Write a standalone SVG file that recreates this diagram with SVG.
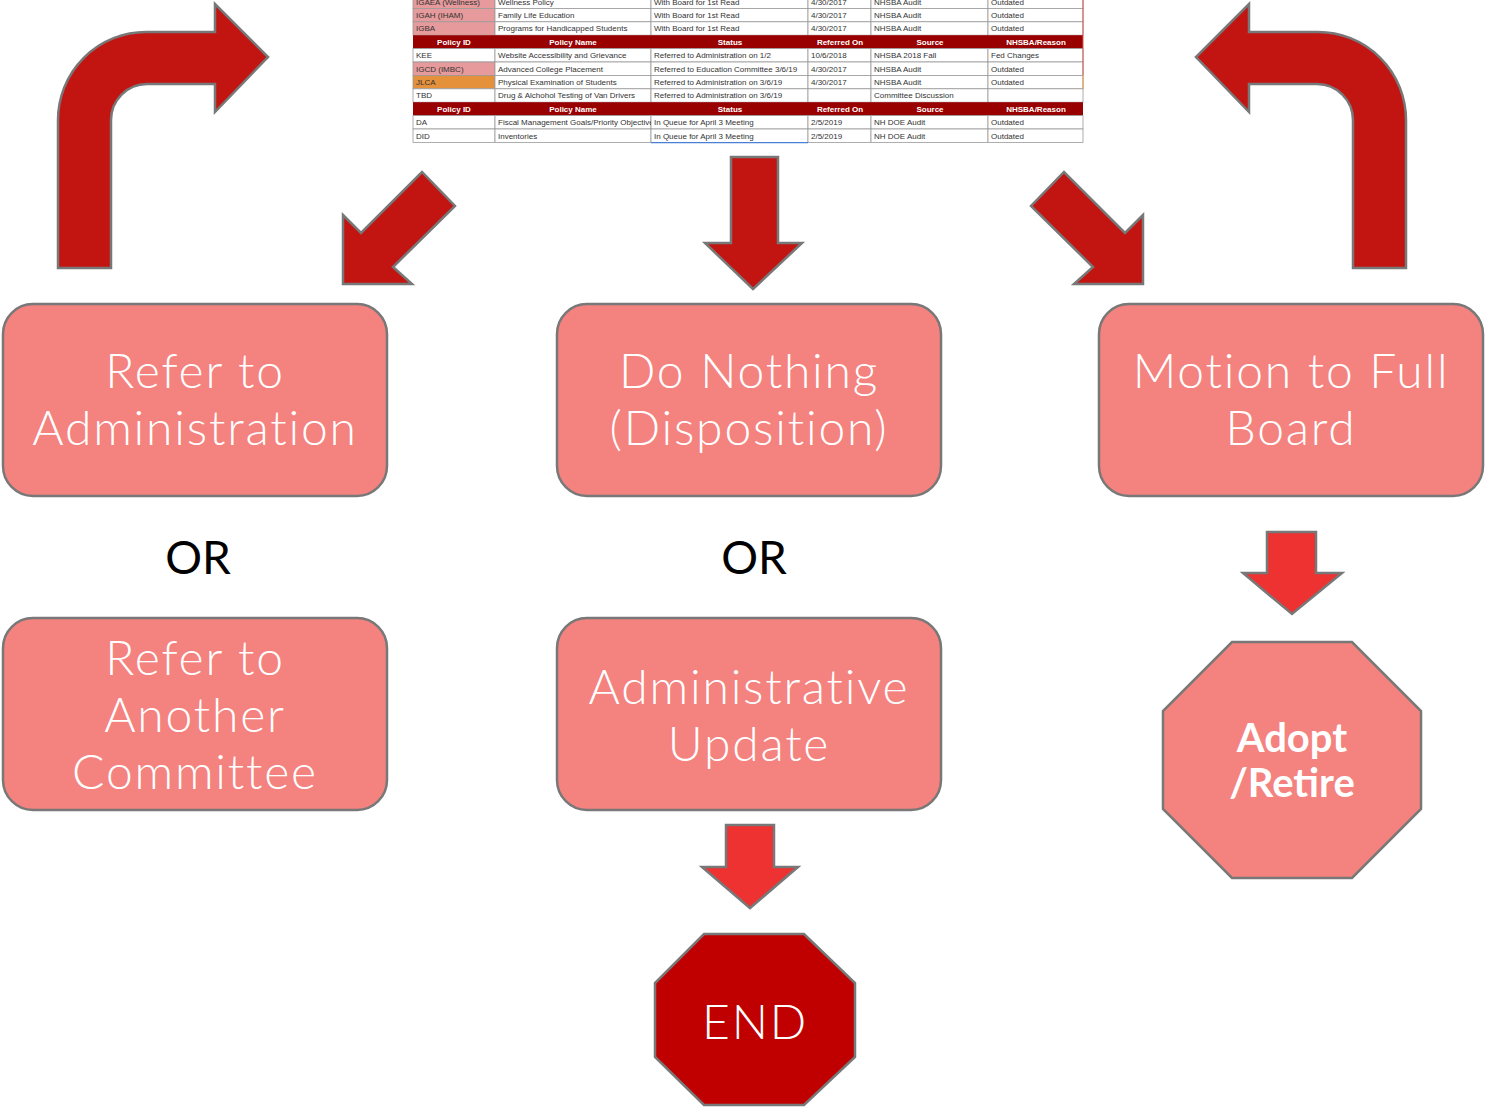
<svg xmlns="http://www.w3.org/2000/svg" width="1486" height="1109" viewBox="0 0 1486 1109">
<style>
.bg{fill:#ffffff}
.big{fill:#c21512;stroke:#787878;stroke-width:2.5;stroke-linejoin:miter}
.small{fill:#ee3131;stroke:#787878;stroke-width:2.5}
.box{fill:#f4827f;stroke:#787878;stroke-width:2.5}
.lbl{font-family:Lato,"Open Sans","Liberation Sans",sans-serif;font-weight:300;font-size:48px;letter-spacing:1.8px;fill:#ffffff;text-anchor:middle}
.or{font-family:Lato,"Open Sans","Liberation Sans",sans-serif;font-weight:400;font-size:46px;fill:#000000;text-anchor:middle}
.td{font-family:"Liberation Sans",Arial,sans-serif;font-size:8px;fill:#333333}
.th{font-family:"Liberation Sans",Arial,sans-serif;font-size:8px;font-weight:bold;fill:#ffffff;text-anchor:middle}
.cell{fill:#ffffff;stroke:#9a9a9a;stroke-width:0.8}
.pink{fill:#e69a9b;stroke:#9a9a9a;stroke-width:0.8}
.orange{fill:#e5913c;stroke:#9a9a9a;stroke-width:0.8}
.hdr{fill:#990000}
</style>
<rect class="bg" x="0" y="0" width="1486" height="1109"/>

<g id="table">
  <rect class="pink" x="413" y="-5" width="82" height="13.4"/>
  <rect class="cell" x="495" y="-5" width="156" height="13.4"/>
  <rect class="cell" x="651" y="-5" width="157" height="13.4"/>
  <rect class="cell" x="808" y="-5" width="63" height="13.4"/>
  <rect class="cell" x="871" y="-5" width="117" height="13.4"/>
  <rect class="cell" x="988" y="-5" width="95" height="13.4"/>
  <text class="td" x="416" y="5">IGAEA (Wellness)</text>
  <text class="td" x="498" y="5">Wellness Policy</text>
  <text class="td" x="654" y="5">With Board for 1st Read</text>
  <text class="td" x="811" y="5">4/30/2017</text>
  <text class="td" x="874" y="5">NHSBA Audit</text>
  <text class="td" x="991" y="5">Outdated</text>
  <rect class="pink" x="413" y="8.4" width="82" height="13.4"/>
  <rect class="cell" x="495" y="8.4" width="156" height="13.4"/>
  <rect class="cell" x="651" y="8.4" width="157" height="13.4"/>
  <rect class="cell" x="808" y="8.4" width="63" height="13.4"/>
  <rect class="cell" x="871" y="8.4" width="117" height="13.4"/>
  <rect class="cell" x="988" y="8.4" width="95" height="13.4"/>
  <text class="td" x="416" y="18">IGAH (IHAM)</text>
  <text class="td" x="498" y="18">Family Life Education</text>
  <text class="td" x="654" y="18">With Board for 1st Read</text>
  <text class="td" x="811" y="18">4/30/2017</text>
  <text class="td" x="874" y="18">NHSBA Audit</text>
  <text class="td" x="991" y="18">Outdated</text>
  <rect class="pink" x="413" y="21.8" width="82" height="13.4"/>
  <rect class="cell" x="495" y="21.8" width="156" height="13.4"/>
  <rect class="cell" x="651" y="21.8" width="157" height="13.4"/>
  <rect class="cell" x="808" y="21.8" width="63" height="13.4"/>
  <rect class="cell" x="871" y="21.8" width="117" height="13.4"/>
  <rect class="cell" x="988" y="21.8" width="95" height="13.4"/>
  <text class="td" x="416" y="31.4">IGBA</text>
  <text class="td" x="498" y="31.4">Programs for Handicapped Students</text>
  <text class="td" x="654" y="31.4">With Board for 1st Read</text>
  <text class="td" x="811" y="31.4">4/30/2017</text>
  <text class="td" x="874" y="31.4">NHSBA Audit</text>
  <text class="td" x="991" y="31.4">Outdated</text>
  <rect class="hdr" x="413" y="35.2" width="670" height="13.4"/>
  <text class="th" x="454" y="45">Policy ID</text>
  <text class="th" x="573" y="45">Policy Name</text>
  <text class="th" x="730" y="45">Status</text>
  <text class="th" x="840" y="45">Referred On</text>
  <text class="th" x="930" y="45">Source</text>
  <text class="th" x="1036" y="45">NHSBA/Reason</text>
  <rect class="cell" x="413" y="48.6" width="82" height="13.4"/>
  <rect class="cell" x="495" y="48.6" width="156" height="13.4"/>
  <rect class="cell" x="651" y="48.6" width="157" height="13.4"/>
  <rect class="cell" x="808" y="48.6" width="63" height="13.4"/>
  <rect class="cell" x="871" y="48.6" width="117" height="13.4"/>
  <rect class="cell" x="988" y="48.6" width="95" height="13.4"/>
  <text class="td" x="416" y="58.2">KEE</text>
  <text class="td" x="498" y="58.2">Website Accessibility and Grievance</text>
  <text class="td" x="654" y="58.2">Referred to Administration on 1/2</text>
  <text class="td" x="811" y="58.2">10/6/2018</text>
  <text class="td" x="874" y="58.2">NHSBA 2018 Fall</text>
  <text class="td" x="991" y="58.2">Fed Changes</text>
  <rect class="pink" x="413" y="62" width="82" height="13.4"/>
  <rect class="cell" x="495" y="62" width="156" height="13.4"/>
  <rect class="cell" x="651" y="62" width="157" height="13.4"/>
  <rect class="cell" x="808" y="62" width="63" height="13.4"/>
  <rect class="cell" x="871" y="62" width="117" height="13.4"/>
  <rect class="cell" x="988" y="62" width="95" height="13.4"/>
  <text class="td" x="416" y="71.6">IGCD (IMBC)</text>
  <text class="td" x="498" y="71.6">Advanced College Placement</text>
  <text class="td" x="654" y="71.6">Referred to Education Committee 3/6/19</text>
  <text class="td" x="811" y="71.6">4/30/2017</text>
  <text class="td" x="874" y="71.6">NHSBA Audit</text>
  <text class="td" x="991" y="71.6">Outdated</text>
  <rect class="orange" x="413" y="75.4" width="82" height="13.4"/>
  <rect class="cell" x="495" y="75.4" width="156" height="13.4"/>
  <rect class="cell" x="651" y="75.4" width="157" height="13.4"/>
  <rect class="cell" x="808" y="75.4" width="63" height="13.4"/>
  <rect class="cell" x="871" y="75.4" width="117" height="13.4"/>
  <rect class="cell" x="988" y="75.4" width="95" height="13.4"/>
  <text class="td" x="416" y="85">JLCA</text>
  <text class="td" x="498" y="85">Physical Examination of Students</text>
  <text class="td" x="654" y="85">Referred to Administration on 3/6/19</text>
  <text class="td" x="811" y="85">4/30/2017</text>
  <text class="td" x="874" y="85">NHSBA Audit</text>
  <text class="td" x="991" y="85">Outdated</text>
  <rect class="cell" x="413" y="88.8" width="82" height="13.4"/>
  <rect class="cell" x="495" y="88.8" width="156" height="13.4"/>
  <rect class="cell" x="651" y="88.8" width="157" height="13.4"/>
  <rect class="cell" x="808" y="88.8" width="63" height="13.4"/>
  <rect class="cell" x="871" y="88.8" width="117" height="13.4"/>
  <rect class="cell" x="988" y="88.8" width="95" height="13.4"/>
  <text class="td" x="416" y="98.4">TBD</text>
  <text class="td" x="498" y="98.4">Drug &amp; Alchohol Testing of Van Drivers</text>
  <text class="td" x="654" y="98.4">Referred to Administration on 3/6/19</text>
  <text class="td" x="874" y="98.4">Committee Discussion</text>
  <rect class="hdr" x="413" y="102.2" width="670" height="13.4"/>
  <text class="th" x="454" y="112">Policy ID</text>
  <text class="th" x="573" y="112">Policy Name</text>
  <text class="th" x="730" y="112">Status</text>
  <text class="th" x="840" y="112">Referred On</text>
  <text class="th" x="930" y="112">Source</text>
  <text class="th" x="1036" y="112">NHSBA/Reason</text>
  <rect class="cell" x="413" y="115.6" width="82" height="13.4"/>
  <rect class="cell" x="495" y="115.6" width="156" height="13.4"/>
  <rect class="cell" x="651" y="115.6" width="157" height="13.4"/>
  <rect class="cell" x="808" y="115.6" width="63" height="13.4"/>
  <rect class="cell" x="871" y="115.6" width="117" height="13.4"/>
  <rect class="cell" x="988" y="115.6" width="95" height="13.4"/>
  <text class="td" x="416" y="125.2">DA</text>
  <svg x="495" y="115.6" width="156" height="13.4" overflow="hidden"><text class="td" x="3" y="9.6">Fiscal Management Goals/Priority Objectives</text></svg>
  <text class="td" x="654" y="125.2">In Queue for April 3 Meeting</text>
  <text class="td" x="811" y="125.2">2/5/2019</text>
  <text class="td" x="874" y="125.2">NH DOE Audit</text>
  <text class="td" x="991" y="125.2">Outdated</text>
  <rect class="cell" x="413" y="129" width="82" height="13.4"/>
  <rect class="cell" x="495" y="129" width="156" height="13.4"/>
  <rect class="cell" x="651" y="129" width="157" height="13.4"/>
  <rect class="cell" x="808" y="129" width="63" height="13.4"/>
  <rect class="cell" x="871" y="129" width="117" height="13.4"/>
  <rect class="cell" x="988" y="129" width="95" height="13.4"/>
  <text class="td" x="416" y="138.6">DID</text>
  <text class="td" x="498" y="138.6">Inventories</text>
  <text class="td" x="654" y="138.6">In Queue for April 3 Meeting</text>
  <text class="td" x="811" y="138.6">2/5/2019</text>
  <text class="td" x="874" y="138.6">NH DOE Audit</text>
  <text class="td" x="991" y="138.6">Outdated</text>
  <line x1="651" y1="142.6" x2="808" y2="142.6" stroke="#4a7fd6" stroke-width="1.2"/>
  <line x1="1083" y1="-5" x2="1083" y2="75" stroke="#d9534f" stroke-width="1"/>
  <line x1="1083" y1="75.4" x2="1083" y2="88.8" stroke="#e5913c" stroke-width="1"/>
</g>

<g id="connectors">
  <path class="big" d="M58,268 L58,120 A88,88 0 0 1 146,32 L215,32 L215,4 L268,57 L215,112 L215,84 L147,84 A36,36 0 0 0 111,120 L111,268 Z"/>
  <path class="big" transform="translate(1464,0) scale(-1,1)" d="M58,268 L58,120 A88,88 0 0 1 146,32 L215,32 L215,4 L268,57 L215,112 L215,84 L147,84 A36,36 0 0 0 111,120 L111,268 Z"/>
  <polygon class="big" points="343,215 361,233 422,172 455,206 393,267 412,284 343,284"/>
  <polygon class="big" points="1143,215 1125,233 1064,172 1031,206 1093,267 1074,284 1143,284"/>
  <polygon class="big" points="731,157 778,157 778,243 802,243 753,289 705,243 731,243"/>
  <polygon class="small" points="726,825 774,825 774,867 798,867 750,908 702,867 726,867"/>
  <polygon class="small" points="1267,532 1316,532 1316,573 1342,573 1292,614 1243,573 1267,573"/>
</g>

<g id="node-refer-admin">
  <rect class="box" x="3" y="304" width="384" height="192" rx="30"/>
  <text class="lbl" x="195" y="388">Refer to</text>
  <text class="lbl" x="195" y="445">Administration</text>
</g>
<g id="node-do-nothing">
  <rect class="box" x="557" y="304" width="384" height="192" rx="30"/>
  <text class="lbl" x="749" y="388">Do Nothing</text>
  <text class="lbl" x="749" y="445">(Disposition)</text>
</g>
<g id="node-motion">
  <rect class="box" x="1099" y="304" width="384" height="192" rx="30"/>
  <text class="lbl" x="1291" y="388">Motion to Full</text>
  <text class="lbl" x="1291" y="445">Board</text>
</g>
<g id="or-left"><text class="or" x="198" y="574">OR</text></g>
<g id="or-mid"><text class="or" x="754" y="574">OR</text></g>
<g id="node-refer-committee">
  <rect class="box" x="3" y="618" width="384" height="192" rx="30"/>
  <text class="lbl" x="195" y="675">Refer to</text>
  <text class="lbl" x="195" y="732">Another</text>
  <text class="lbl" x="195" y="789">Committee</text>
</g>
<g id="node-admin-update">
  <rect class="box" x="557" y="618" width="384" height="192" rx="30"/>
  <text class="lbl" x="749" y="704">Administrative</text>
  <text class="lbl" x="749" y="761">Update</text>
</g>
<g id="node-adopt">
  <polygon class="box" points="1232,642 1352,642 1421,711 1421,809 1352,878 1232,878 1163,809 1163,711"/>
  <text x="1292" y="752" style="font-family:Lato,'Open Sans','Liberation Sans',sans-serif;font-weight:bold;font-size:40px;fill:#ffffff;text-anchor:middle">Adopt</text>
  <text x="1292" y="797" style="font-family:Lato,'Open Sans','Liberation Sans',sans-serif;font-weight:bold;font-size:40px;fill:#ffffff;text-anchor:middle">/Retire</text>
</g>
<g id="node-end">
  <polygon points="704,934 804,934 855,983 855,1057 804,1105 704,1105 655,1057 655,983" fill="#c00000" stroke="#787878" stroke-width="2.5"/>
  <text class="lbl" x="755" y="1039">END</text>
</g>
</svg>
